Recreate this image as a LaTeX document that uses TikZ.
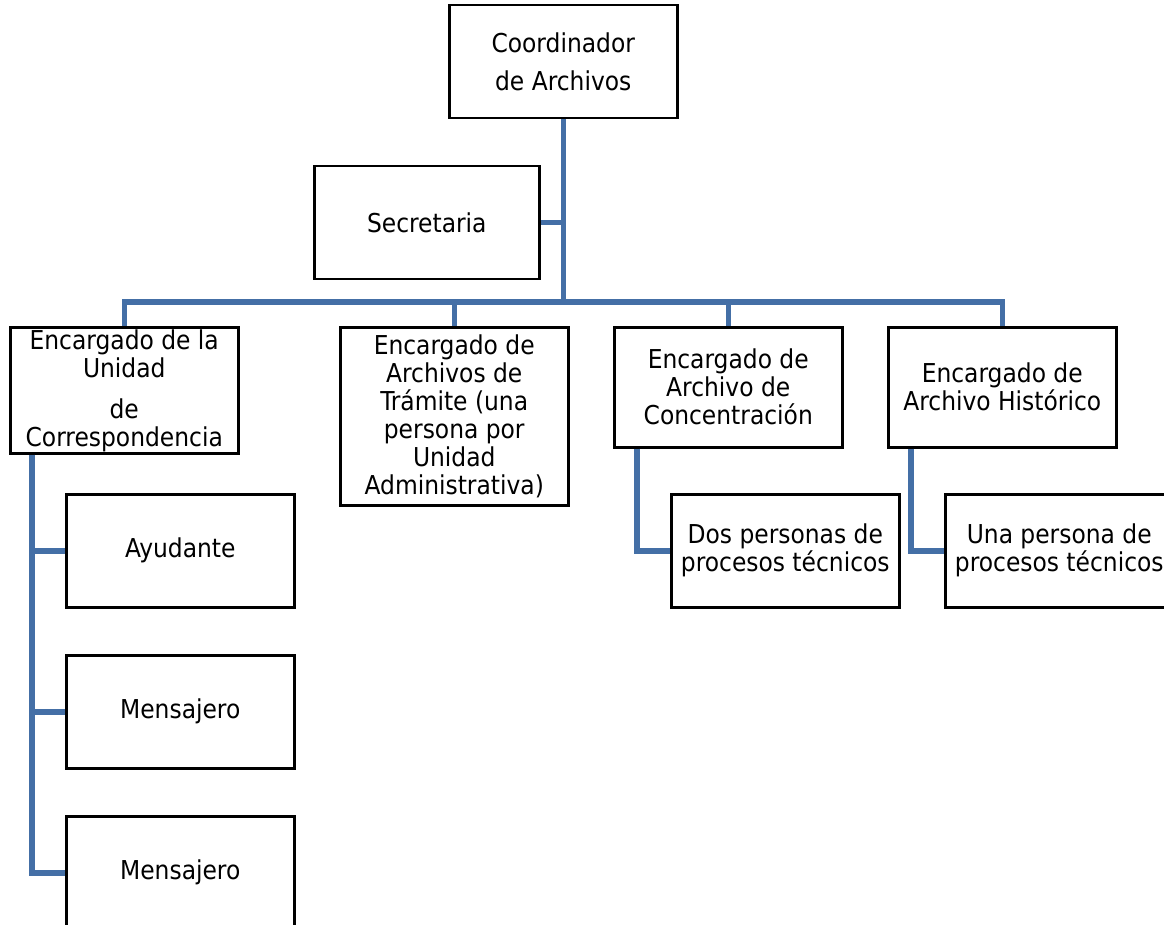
\documentclass[tikz,border=0pt]{standalone}
\usepackage{fontspec}
\setmainfont{DejaVu Sans Condensed}
\usetikzlibrary{calc}
\definecolor{ligaazul}{RGB}{68,111,166}

\begin{document}
\begin{tikzpicture}[x=1pt,y=-1pt,
    puesto/.style={draw,line width=2.5pt,anchor=north west,align=center,
        minimum width=228pt,minimum height=113pt,inner sep=2pt,
        font=\fontsize{26}{28}\selectfont},
    liga/.style={draw=ligaazul,line width=5.5pt}]
    \useasboundingbox (0,0) rectangle (1164,925);
    \clip (0,0) rectangle (1164,925);

    % direccion
    \node[puesto] (coord) at (448,4) {Coordinador\\[10pt]de Archivos};
    \node[puesto,minimum width=225pt] (sec) at (313,165) {Secretaria};
    \coordinate (bus) at (562,302);

    % encargados
    \node[puesto,minimum height=120pt] (e1) at (9,326)
        {Encargado de la\\Unidad\\[13pt]de\\Correspondencia};
    \node[puesto,minimum height=178pt] (e2) at (339,326)
        {Encargado de\\Archivos de\\Trámite (una\\persona por\\Unidad\\Administrativa)};
    \node[puesto,minimum height=120pt] (e3) at (613,326)
        {Encargado de\\Archivo de\\Concentración};
    \node[puesto,minimum height=120pt] (e4) at (887,326)
        {Encargado de\\Archivo Histórico};

    % personal
    \node[puesto] (ayud) at (65,493) {Ayudante};
    \node[puesto] (men1) at (65,654) {Mensajero};
    \node[puesto] (men2) at (65,815) {Mensajero};
    \node[puesto] (dos) at (670,493) {Dos personas de\\procesos técnicos};
    \node[puesto] (una) at (944,493) {Una persona de\\procesos técnicos};

    % lineas
    \draw[liga] (coord.south) -- (coord.south |- bus);
    \draw[liga] (sec.east) -- (sec.east -| coord.south);
    \draw[liga] (e1.north) -- (e1.north |- bus) -- (e4.north |- bus) -- (e4.north);
    \foreach \n in {e2,e3}
        \draw[liga] (\n.north |- bus) -- (\n.north);

    \coordinate (t1) at ([xshift=23pt]e1.south west);
    \draw[liga] (t1) |- (men2.west);
    \foreach \n in {ayud,men1}
        \draw[liga] (\n.west -| t1) -- (\n.west);
    \draw[liga] ([xshift=24pt]e3.south west) |- (dos.west);
    \draw[liga] ([xshift=24pt]e4.south west) |- (una.west);
\end{tikzpicture}
\end{document}
